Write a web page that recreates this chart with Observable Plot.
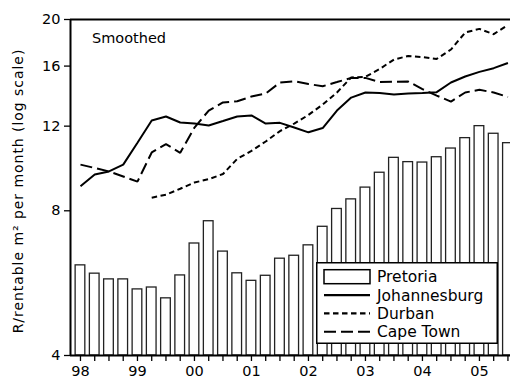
<!DOCTYPE html>
<html><head><meta charset="utf-8">
<script src="https://cdn.jsdelivr.net/npm/d3@7"></script>
<script src="https://cdn.jsdelivr.net/npm/@observablehq/plot@0.6"></script>
<style>
body{margin:0;background:#fff;}
#wrap{position:relative;width:510px;height:383px;overflow:hidden;font-family:"DejaVu Sans",sans-serif;}
#legend{position:absolute;left:316px;top:262px;}
#ytitle{position:absolute;left:18px;top:191px;transform:translate(-50%,-50%) rotate(-90deg);white-space:nowrap;font-size:14px;letter-spacing:0.95px;color:#000;}
</style></head><body><div id="wrap"></div>
<script>
const quarters = ["98Q1","98Q2","98Q3","98Q4","99Q1","99Q2","99Q3","99Q4","00Q1","00Q2","00Q3","00Q4","01Q1","01Q2","01Q3","01Q4","02Q1","02Q2","02Q3","02Q4","03Q1","03Q2","03Q3","03Q4","04Q1","04Q2","04Q3","04Q4","05Q1","05Q2","05Q3"];
const yearLabels = ["98","99","00","01","02","03","04","05"];
const yTicks = [4, 8, 12, 16, 20];
const pretoria = [6.16, 5.92, 5.76, 5.76, 5.49, 5.54, 5.26, 5.87, 6.84, 7.61, 6.58, 5.93, 5.72, 5.86, 6.36, 6.45, 6.78, 7.41, 8.07, 8.45, 8.94, 9.60, 10.31, 10.10, 10.08, 10.34, 10.78, 11.33, 12.00, 11.57, 11.06];
const johannesburg = [9.00, 9.52, 9.66, 9.98, 11.08, 12.33, 12.57, 12.21, 12.15, 12.04, 12.30, 12.57, 12.63, 12.15, 12.19, 11.92, 11.65, 11.89, 12.93, 13.76, 14.10, 14.06, 13.96, 14.03, 14.06, 14.12, 14.79, 15.22, 15.56, 15.84, 16.24];
const durban = [null, null, null, null, null, 8.52, 8.64, 8.89, 9.16, 9.31, 9.54, 10.26, 10.66, 11.15, 11.72, 12.15, 12.66, 13.31, 14.10, 15.15, 15.20, 15.78, 16.51, 16.79, 16.71, 16.56, 17.32, 18.79, 19.12, 18.64, 19.48];
const capeTown = [9.98, 9.82, 9.66, 9.43, 9.20, 10.58, 11.01, 10.56, 11.92, 12.93, 13.44, 13.52, 13.83, 14.03, 14.79, 14.88, 14.68, 14.53, 14.82, 15.12, 15.12, 14.82, 14.84, 14.86, 14.33, 13.89, 13.50, 14.10, 14.28, 14.10, 13.80];
const seriesNames = ["Pretoria", "Johannesburg", "Durban", "Cape Town"];
const noteText = "Smoothed";
const yTitle = "R/rentable m² per month (log scale)";

const dashes = {"Johannesburg": null, "Durban": "5.5,3.5", "Cape Town": "12,5"};
const idx = quarters.map((q, i) => i);
const bars = pretoria.map((v, i) => ({i, q: quarters[i], v}));
const lineSeries = [["Johannesburg", johannesburg], ["Durban", durban], ["Cape Town", capeTown]];
const xDomain = [-0.7, 30.18];
const yDomain = [yTicks[0], yTicks[yTicks.length - 1]];

const chart = Plot.plot({
  width: 510, height: 383,
  marginLeft: 70, marginTop: 19, marginBottom: 28, marginRight: 0,
  style: {fontFamily: "DejaVu Sans", fontSize: "14.5px", background: "white", color: "black"},
  x: {type: "linear", domain: xDomain},
  y: {type: "log", domain: yDomain},
  marks: [
    Plot.rect(bars, {x1: d => d.i - 0.34, x2: d => d.i + 0.34, y1: yDomain[0], y2: "v", fill: "white", stroke: "#222", strokeWidth: 1.3}),
    ...lineSeries.map(([name, vals]) => Plot.line(
      vals.map((v, i) => ({i, v})).filter(d => d.v != null),
      {x: "i", y: "v", stroke: "black", strokeWidth: 2, strokeDasharray: dashes[name], strokeLinecap: "butt", strokeLinejoin: "miter"})),
    Plot.ruleY([yDomain[0]], {stroke: "black", strokeWidth: 2}),
    Plot.ruleY([yDomain[1]], {stroke: "black", strokeWidth: 2}),
    Plot.ruleX([xDomain[0]], {stroke: "black", strokeWidth: 2}),
    Plot.axisX({ticks: idx, tickSize: 6, tickPadding: 4, strokeWidth: 1.3, tickFormat: i => i % 4 === 0 ? yearLabels[i / 4] : "", label: null}),
    Plot.axisY({ticks: yTicks, tickSize: 6, tickPadding: 4, strokeWidth: 1.3, tickFormat: d => String(d), label: null}),
    Plot.text([noteText], {text: d => d, frameAnchor: "top-left", dx: 21.5, dy: 13, textAnchor: "start"})
  ]
});
const wrap = document.getElementById("wrap");
wrap.appendChild(chart);

const yt = document.createElement("div");
yt.id = "ytitle";
yt.textContent = yTitle;
wrap.appendChild(yt);

// Legend overlay inside the plot area
const lg = d3.create("svg").attr("id", "legend").attr("width", 182).attr("height", 82)
  .style("font-family", "DejaVu Sans").style("font-size", "15.5px");
lg.append("rect").attr("x", 0.75).attr("y", 0.75).attr("width", 180.5).attr("height", 80.5)
  .attr("fill", "white").attr("stroke", "black").attr("stroke-width", 1.5);
seriesNames.forEach((name, k) => {
  const cy = 14.7 + k * 18.35;
  if (k === 0) {
    lg.append("rect").attr("x", 8).attr("y", cy - 7).attr("width", 46).attr("height", 14)
      .attr("fill", "white").attr("stroke", "black").attr("stroke-width", 1.5);
  } else {
    const l = lg.append("line").attr("x1", 8).attr("x2", 54).attr("y1", cy).attr("y2", cy)
      .attr("stroke", "black").attr("stroke-width", 2.2);
    if (dashes[name]) l.attr("stroke-dasharray", dashes[name]);
  }
  lg.append("text").attr("x", 61).attr("y", cy).attr("dy", "0.36em").text(name);
});
wrap.appendChild(lg.node());
</script></body></html>
